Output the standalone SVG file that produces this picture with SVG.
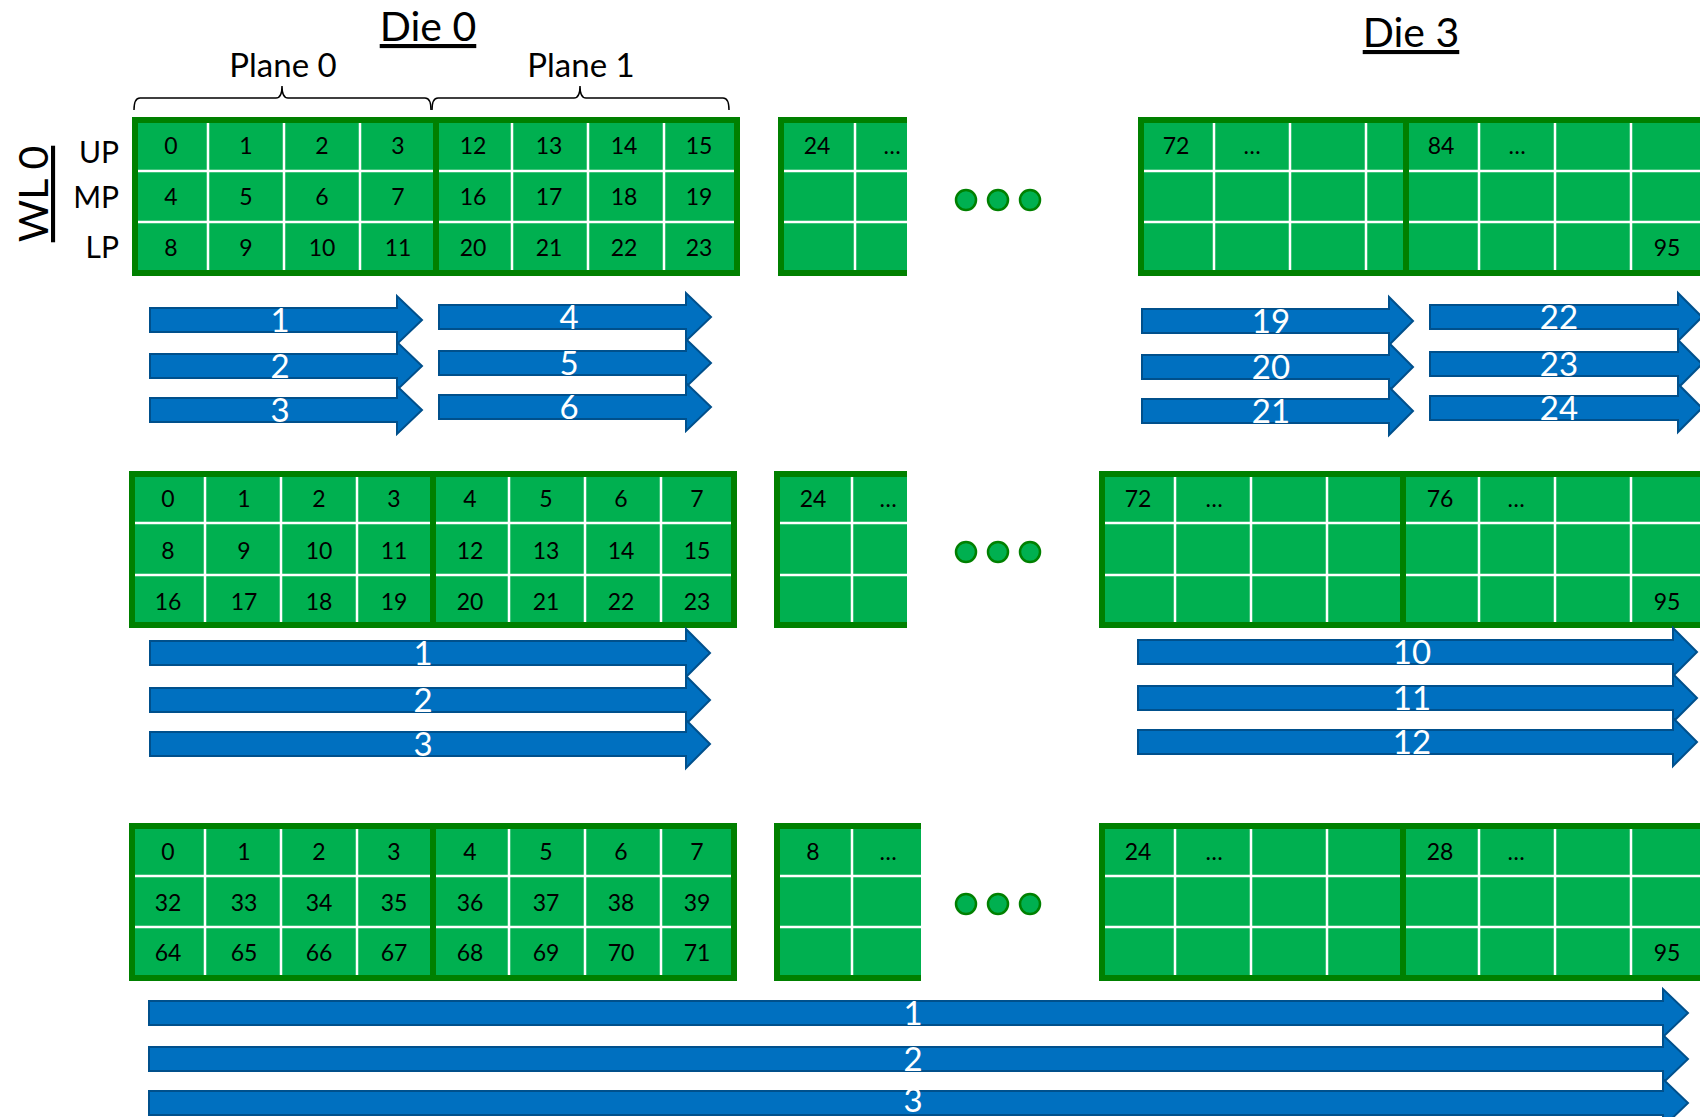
<svg xmlns="http://www.w3.org/2000/svg" width="1700" height="1117" viewBox="0 0 1700 1117">
<defs>
<style>
text{font-family:Lato,"Liberation Sans",sans-serif}
.bg{fill:#00B050}
.bd{fill:none;stroke:#008000;stroke-width:6}
.wl{stroke:#ffffff;stroke-width:2.5}
.c{font-size:23px;fill:#000;text-anchor:middle}
.arr{fill:#0070C0;stroke:#00508C;stroke-width:2}
.al{font-size:33px;fill:#fff;text-anchor:middle}
.hdr{font-size:41px;fill:#000;text-anchor:middle;text-decoration:underline}
.pl{font-size:33px;fill:#000;text-anchor:middle}
.sd{font-size:30px;fill:#000;text-anchor:end}
.dot{fill:#00B050;stroke:#008000;stroke-width:2.5}
.br{fill:none;stroke:#000;stroke-width:1.5}
</style>
</defs>
<rect width="1700" height="1117" fill="#fff"/>

<g id="labels">
<text class="hdr" x="428" y="41">Die 0</text>
<text class="hdr" x="1411" y="47">Die 3</text>
<text class="pl" x="283" y="77">Plane 0</text>
<text class="pl" x="581" y="77">Plane 1</text>
<text class="hdr" transform="translate(48,194) rotate(-90)" x="0" y="0">WL 0</text>
<text class="sd" x="119" y="163">UP</text>
<text class="sd" x="119" y="208">MP</text>
<text class="sd" x="119" y="258">LP</text>
</g>

<g id="braces">
<path class="br" d="M134,110 Q134,98 140,98 L276,98 Q282,98 282,86 Q282,98 288,98 L425,98 Q431,98 431,110"/>
<path class="br" d="M432,110 Q432,98 438,98 L574,98 Q580,98 580,86 Q580,98 586,98 L723,98 Q729,98 729,110"/>
</g>

<!-- Row 1 -->
<g id="die0-wl0">
<rect class="bg" x="132" y="117" width="608" height="159"/>
<path class="wl" d="M208,120V273M284,120V273M360,120V273M512,120V273M588,120V273M664,120V273M135,171H737M135,222H737"/>
<rect class="bd" x="135" y="120" width="301" height="153"/>
<rect class="bd" x="436" y="120" width="301" height="153"/>
<g class="c">
<text x="171" y="154">0</text><text x="246" y="154">1</text><text x="322" y="154">2</text><text x="398" y="154">3</text>
<text x="473" y="154">12</text><text x="549" y="154">13</text><text x="624" y="154">14</text><text x="699" y="154">15</text>
<text x="171" y="205">4</text><text x="246" y="205">5</text><text x="322" y="205">6</text><text x="398" y="205">7</text>
<text x="473" y="205">16</text><text x="549" y="205">17</text><text x="624" y="205">18</text><text x="699" y="205">19</text>
<text x="171" y="256">8</text><text x="246" y="256">9</text><text x="322" y="256">10</text><text x="398" y="256">11</text>
<text x="473" y="256">20</text><text x="549" y="256">21</text><text x="624" y="256">22</text><text x="699" y="256">23</text>
</g>
</g>

<g id="die1-wl0">
<rect class="bg" x="778" y="117" width="129" height="159"/>
<path class="wl" d="M855,120V273M781,171H907M781,222H907"/>
<path class="bd" d="M907,120H781V273H907"/>
<g class="c"><text x="817" y="154">24</text><text x="892" y="154">…</text></g>
</g>

<g id="dots-wl0">
<circle class="dot" cx="966" cy="200" r="10"/><circle class="dot" cx="998" cy="200" r="10"/><circle class="dot" cx="1030" cy="200" r="10"/>
</g>

<g id="die3-wl0">
<rect class="bg" x="1138" y="117" width="305" height="159"/>
<path class="wl" d="M1214,120V273M1290,120V273M1366,120V273M1141,171H1440M1141,222H1440"/>
<rect class="bd" x="1141" y="120" width="299" height="153"/>
<rect class="bg" x="1403" y="117" width="320" height="159"/>
<path class="wl" d="M1479,120V273M1555,120V273M1631,120V273M1406,171H1720M1406,222H1720"/>
<rect class="bd" x="1406" y="120" width="320" height="153"/>
<g class="c"><text x="1176" y="154">72</text><text x="1252" y="154">…</text><text x="1441" y="154">84</text><text x="1517" y="154">…</text><text x="1667" y="256">95</text></g>
</g>

<!-- Row 2 -->
<g id="die0-wl1">
<rect class="bg" x="129" y="471" width="608" height="157"/>
<path class="wl" d="M205,474V625M281,474V625M357,474V625M509,474V625M585,474V625M661,474V625M132,523H734M132,575H734"/>
<rect class="bd" x="132" y="474" width="301" height="151"/>
<rect class="bd" x="433" y="474" width="301" height="151"/>
<g class="c">
<text x="168" y="507">0</text><text x="244" y="507">1</text><text x="319" y="507">2</text><text x="394" y="507">3</text>
<text x="470" y="507">4</text><text x="546" y="507">5</text><text x="621" y="507">6</text><text x="697" y="507">7</text>
<text x="168" y="559">8</text><text x="244" y="559">9</text><text x="319" y="559">10</text><text x="394" y="559">11</text>
<text x="470" y="559">12</text><text x="546" y="559">13</text><text x="621" y="559">14</text><text x="697" y="559">15</text>
<text x="168" y="610">16</text><text x="244" y="610">17</text><text x="319" y="610">18</text><text x="394" y="610">19</text>
<text x="470" y="610">20</text><text x="546" y="610">21</text><text x="621" y="610">22</text><text x="697" y="610">23</text>
</g>
</g>

<g id="die1-wl1">
<rect class="bg" x="774" y="471" width="133" height="157"/>
<path class="wl" d="M852,474V625M777,523H907M777,575H907"/>
<path class="bd" d="M907,474H777V625H907"/>
<g class="c"><text x="813" y="507">24</text><text x="888" y="507">…</text></g>
</g>

<g id="dots-wl1">
<circle class="dot" cx="966" cy="552" r="10"/><circle class="dot" cx="998" cy="552" r="10"/><circle class="dot" cx="1030" cy="552" r="10"/>
</g>

<g id="die3-wl1">
<rect class="bg" x="1099" y="471" width="304" height="157"/>
<path class="wl" d="M1175,474V625M1251,474V625M1327,474V625M1102,523H1403M1102,575H1403"/>
<rect class="bd" x="1102" y="474" width="301" height="151"/>
<rect class="bg" x="1403" y="471" width="320" height="157"/>
<path class="wl" d="M1479,474V625M1555,474V625M1631,474V625M1406,523H1720M1406,575H1720"/>
<rect class="bd" x="1403" y="474" width="320" height="151"/>
<g class="c"><text x="1138" y="507">72</text><text x="1214" y="507">…</text><text x="1440" y="507">76</text><text x="1516" y="507">…</text><text x="1667" y="610">95</text></g>
</g>

<!-- Row 3 -->
<g id="die0-wl2">
<rect class="bg" x="129" y="823" width="608" height="158"/>
<path class="wl" d="M205,826V978M281,826V978M357,826V978M509,826V978M585,826V978M661,826V978M132,876H734M132,927H734"/>
<rect class="bd" x="132" y="826" width="301" height="152"/>
<rect class="bd" x="433" y="826" width="301" height="152"/>
<g class="c">
<text x="168" y="860">0</text><text x="244" y="860">1</text><text x="319" y="860">2</text><text x="394" y="860">3</text>
<text x="470" y="860">4</text><text x="546" y="860">5</text><text x="621" y="860">6</text><text x="697" y="860">7</text>
<text x="168" y="911">32</text><text x="244" y="911">33</text><text x="319" y="911">34</text><text x="394" y="911">35</text>
<text x="470" y="911">36</text><text x="546" y="911">37</text><text x="621" y="911">38</text><text x="697" y="911">39</text>
<text x="168" y="961">64</text><text x="244" y="961">65</text><text x="319" y="961">66</text><text x="394" y="961">67</text>
<text x="470" y="961">68</text><text x="546" y="961">69</text><text x="621" y="961">70</text><text x="697" y="961">71</text>
</g>
</g>

<g id="die1-wl2">
<rect class="bg" x="774" y="823" width="147" height="158"/>
<path class="wl" d="M852,826V978M777,876H921M777,927H921"/>
<path class="bd" d="M921,826H777V978H921"/>
<g class="c"><text x="813" y="860">8</text><text x="888" y="860">…</text></g>
</g>

<g id="dots-wl2">
<circle class="dot" cx="966" cy="904" r="10"/><circle class="dot" cx="998" cy="904" r="10"/><circle class="dot" cx="1030" cy="904" r="10"/>
</g>

<g id="die3-wl2">
<rect class="bg" x="1099" y="823" width="304" height="158"/>
<path class="wl" d="M1175,826V978M1251,826V978M1327,826V978M1102,876H1403M1102,927H1403"/>
<rect class="bd" x="1102" y="826" width="301" height="152"/>
<rect class="bg" x="1403" y="823" width="320" height="158"/>
<path class="wl" d="M1479,826V978M1555,826V978M1631,826V978M1406,876H1720M1406,927H1720"/>
<rect class="bd" x="1403" y="826" width="320" height="152"/>
<g class="c"><text x="1138" y="860">24</text><text x="1214" y="860">…</text><text x="1440" y="860">28</text><text x="1516" y="860">…</text><text x="1667" y="961">95</text></g>
</g>

<g id="connectors">
<g id="a-r1-1"><path class="arr" d="M150,308H397V296L422,320L397,344V332H150Z"/><text class="al" x="280" y="332">1</text></g>
<g id="a-r1-2"><path class="arr" d="M150,354H397V342L422,366L397,390V378H150Z"/><text class="al" x="280" y="378">2</text></g>
<g id="a-r1-3"><path class="arr" d="M150,398H397V386L422,410L397,434V422H150Z"/><text class="al" x="280" y="422">3</text></g>
<g id="a-r1-4"><path class="arr" d="M439,305H686V293L711,317L686,341V329H439Z"/><text class="al" x="569" y="329">4</text></g>
<g id="a-r1-5"><path class="arr" d="M439,351H686V339L711,363L686,387V375H439Z"/><text class="al" x="569" y="375">5</text></g>
<g id="a-r1-6"><path class="arr" d="M439,395H686V383L711,407L686,431V419H439Z"/><text class="al" x="569" y="419">6</text></g>
<g id="a-r1-19"><path class="arr" d="M1142,309H1389V297L1413,321L1389,345V333H1142Z"/><text class="al" x="1271" y="333">19</text></g>
<g id="a-r1-20"><path class="arr" d="M1142,355H1389V343L1413,367L1389,391V379H1142Z"/><text class="al" x="1271" y="379">20</text></g>
<g id="a-r1-21"><path class="arr" d="M1142,399H1389V387L1413,411L1389,435V423H1142Z"/><text class="al" x="1271" y="423">21</text></g>
<g id="a-r1-22"><path class="arr" d="M1430,305H1678V293L1702,317L1678,341V329H1430Z"/><text class="al" x="1559" y="329">22</text></g>
<g id="a-r1-23"><path class="arr" d="M1430,352H1678V340L1702,364L1678,388V376H1430Z"/><text class="al" x="1559" y="376">23</text></g>
<g id="a-r1-24"><path class="arr" d="M1430,396H1678V384L1702,408L1678,432V420H1430Z"/><text class="al" x="1559" y="420">24</text></g>

<g id="a-r2-1"><path class="arr" d="M150,641H686V629L710,653L686,677V665H150Z"/><text class="al" x="423" y="665">1</text></g>
<g id="a-r2-2"><path class="arr" d="M150,688H686V676L710,700L686,724V712H150Z"/><text class="al" x="423" y="712">2</text></g>
<g id="a-r2-3"><path class="arr" d="M150,732H686V720L710,744L686,768V756H150Z"/><text class="al" x="423" y="756">3</text></g>
<g id="a-r2-10"><path class="arr" d="M1138,640H1673V628L1697,652L1673,676V664H1138Z"/><text class="al" x="1412" y="664">10</text></g>
<g id="a-r2-11"><path class="arr" d="M1138,686H1673V674L1697,698L1673,722V710H1138Z"/><text class="al" x="1412" y="710">11</text></g>
<g id="a-r2-12"><path class="arr" d="M1138,730H1673V718L1697,742L1673,766V754H1138Z"/><text class="al" x="1412" y="754">12</text></g>

<g id="a-r3-1"><path class="arr" d="M149,1001H1663V989L1688,1013L1663,1037V1025H149Z"/><text class="al" x="913" y="1025">1</text></g>
<g id="a-r3-2"><path class="arr" d="M149,1047H1663V1035L1688,1059L1663,1083V1071H149Z"/><text class="al" x="913" y="1071">2</text></g>
<g id="a-r3-3"><path class="arr" d="M149,1091H1663V1079L1688,1103L1663,1127V1115H149Z"/><text class="al" x="913" y="1112">3</text></g>
</g>
</svg>
